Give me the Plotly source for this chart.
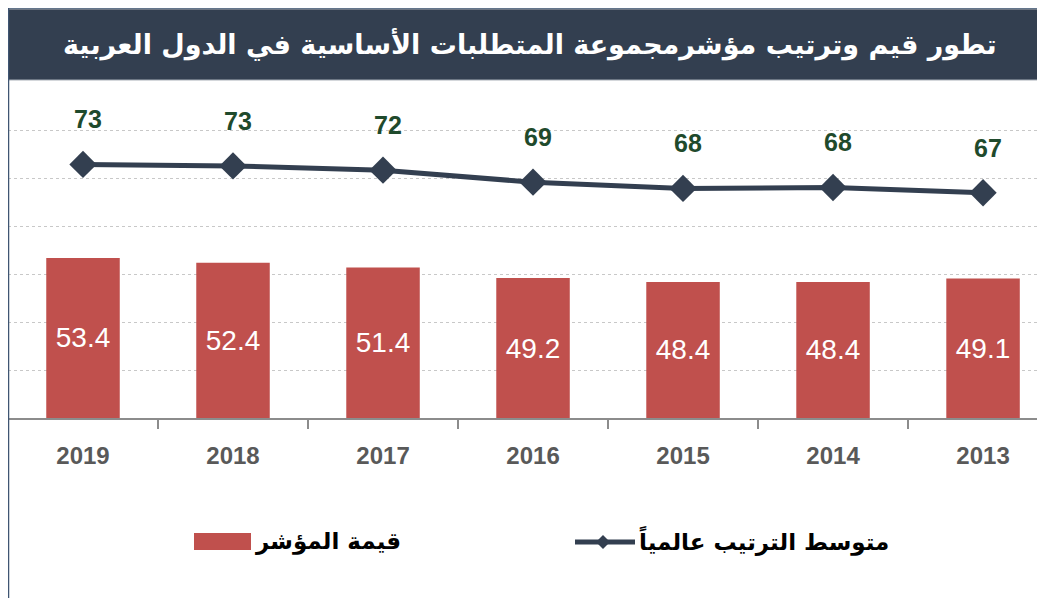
import plotly.graph_objects as go

years = ["2019", "2018", "2017", "2016", "2015", "2014", "2013"]
index_values = [53.4, 52.4, 51.4, 49.2, 48.4, 48.4, 49.1]
avg_rank = [72.9, 72.6, 71.7, 69.2, 67.9, 68.1, 67.0]

title_text = "تطور قيم وترتيب مؤشرمجموعة المتطلبات الأساسية في الدول العربية"
bar_name = "قيمة المؤشر"
line_name = "متوسط الترتيب عالمياً"

AXIS_MIN = 20  # value axis starts at 20, bars rise from there

BAR_COLOR = "#C0504D"
LINE_COLOR = "#333F50"
LABEL_GREEN = "#1F4A2C"
AR_FONT = "DejaVu Sans"
NUM_FONT = "Liberation Sans"

# the page has an 8px body margin, so the figure sits at (8, 8)
OFF = 8
W, H = 1045 - OFF, 598 - OFF
ML, MR, MT, MB = 0, 0, 75, 180
PW, PH = W - ML - MR, H - MT - MB


def px(x):
    # page pixel -> paper x
    return (x - OFF - ML) / PW


def py(y):
    # page pixel -> paper y
    return (H - MB - (y - OFF)) / PH


fig = go.Figure()
fig.add_trace(
    go.Bar(
        x=years,
        y=[v - AXIS_MIN for v in index_values],
        base=AXIS_MIN,
        name=bar_name,
        marker=dict(color=BAR_COLOR, line=dict(width=0)),
        width=0.49,
        text=[f"{v:.1f}" for v in index_values],
        textposition="inside",
        insidetextanchor="middle",
        textangle=0,
        textfont=dict(family=NUM_FONT, size=28, color="white"),
        showlegend=False,
    )
)
fig.add_trace(
    go.Scatter(
        x=years,
        y=avg_rank,
        name=line_name,
        mode="lines+markers",
        line=dict(color=LINE_COLOR, width=5),
        marker=dict(symbol="diamond", size=21, color=LINE_COLOR),
        showlegend=False,
    )
)

for i, value in enumerate(avg_rank):
    fig.add_annotation(
        x=i,
        y=value,
        text=f"{value:.0f}",
        showarrow=False,
        yshift=45,
        xshift=5,
        font=dict(family=NUM_FONT, size=25, color=LABEL_GREEN, weight="bold"),
    )

# title band
fig.add_shape(
    type="rect", xref="paper", yref="paper",
    x0=px(8), x1=px(1050), y0=py(80), y1=py(9),
    fillcolor=LINE_COLOR, line=dict(color="#A9B0B8", width=1), layer="above",
)
fig.add_annotation(
    xref="paper", yref="paper", x=px(530), y=py(44),
    xanchor="center", yanchor="middle",
    text=title_text, showarrow=False,
    font=dict(family=AR_FONT, size=27, color="white", weight="bold"),
)
# chart frame
fig.add_shape(
    type="rect", xref="paper", yref="paper",
    x0=px(8.5), x1=px(1060), y0=py(610), y1=py(8),
    line=dict(color="#3F5572", width=1.5), layer="above",
)

# hand-drawn legend
fig.add_shape(
    type="rect", xref="paper", yref="paper",
    x0=px(194), x1=px(251), y0=py(550), y1=py(533),
    fillcolor=BAR_COLOR, line=dict(width=0),
)
fig.add_annotation(
    xref="paper", yref="paper", x=px(253), y=py(541),
    xanchor="left", yanchor="middle",
    text=bar_name, showarrow=False,
    font=dict(family=AR_FONT, size=23, color="black", weight="bold"),
)
fig.add_shape(
    type="line", xref="paper", yref="paper",
    x0=px(575), x1=px(635), y0=py(542), y1=py(542),
    line=dict(color=LINE_COLOR, width=5),
)
fig.add_shape(
    type="path", xref="paper", yref="paper",
    path=f"M {px(596)} {py(542)} L {px(603)} {py(535)} L {px(610)} {py(542)} L {px(603)} {py(549)} Z",
    fillcolor=LINE_COLOR, line=dict(width=0),
)
fig.add_annotation(
    xref="paper", yref="paper", x=px(637), y=py(541),
    xanchor="left", yanchor="middle",
    text=line_name, showarrow=False,
    font=dict(family=AR_FONT, size=23, color="black", weight="bold"),
)

fig.update_layout(
    width=W,
    height=H,
    margin=dict(l=ML, r=MR, t=MT, b=MB),
    paper_bgcolor="white",
    plot_bgcolor="white",
    xaxis=dict(
        type="category",
        range=[-0.5, 6.413],
        showline=True,
        linecolor="#8C8C8C",
        linewidth=1.5,
        ticks="outside",
        tickson="boundaries",
        ticklen=9,
        tickcolor="#8C8C8C",
        tickwidth=1.5,
        ticklabelstandoff=15,
        tickfont=dict(family=NUM_FONT, size=24, color="#595959", weight="bold"),
        showgrid=False,
    ),
    yaxis=dict(
        range=[AXIS_MIN, 89.9],
        tick0=AXIS_MIN,
        dtick=10,
        showgrid=True,
        gridcolor="#C8C8C8",
        griddash="dot",
        gridwidth=1,
        showticklabels=False,
        zeroline=False,
        showline=False,
    ),
)

fig.write_html("out.html")
